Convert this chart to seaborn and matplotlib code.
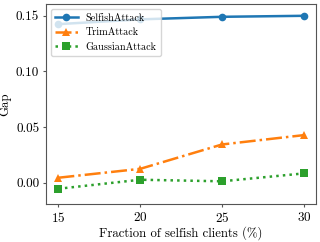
import matplotlib
matplotlib.use("Agg")

import matplotlib.pyplot as plt
import seaborn as sns

fractions = [15, 20, 25, 30]
selfish_gap = [0.1425, 0.1468, 0.1491, 0.1500]
trim_gap = [0.0045, 0.0125, 0.0344, 0.0428]
gaussian_gap = [-0.0054, 0.0027, 0.0013, 0.0084]

plt.rcParams['font.family'] = 'serif'
plt.rcParams['font.serif'] = ['cmr10']
plt.rcParams['mathtext.fontset'] = 'cm'
plt.rcParams['axes.formatter.use_mathtext'] = True
plt.rcParams['axes.unicode_minus'] = False

fig, ax = plt.subplots(figsize=(3.2, 2.42), dpi=100)

sns.lineplot(x=fractions, y=selfish_gap, marker="o", color="tab:blue", label="SelfishAttack",
	linestyle="-", linewidth=1.8, markersize=5.5, markeredgewidth=0, ax=ax)
sns.lineplot(x=fractions, y=trim_gap, marker="^", color="tab:orange", label="TrimAttack",
	linestyle="-.", linewidth=1.8, markersize=5.5, markeredgewidth=0, ax=ax)
sns.lineplot(x=fractions, y=gaussian_gap, marker="s", color="tab:green", label="GaussianAttack",
	linestyle=":", linewidth=1.8, markersize=5.5, markeredgewidth=0, ax=ax)

ax.set_xticks(fractions)
ax.set_yticks([0.0, 0.05, 0.10, 0.15])
ax.set_yticklabels(["0.00", "0.05", "0.10", "0.15"])
ax.set_ylim(-0.0191, 0.1605)
ax.set_xlabel("Fraction of selfish clients (%)", fontsize=9.2, labelpad=1)
ax.set_ylabel("Gap", fontsize=9.2, labelpad=3)
ax.tick_params(labelsize=9.5, length=2.5, pad=2.5, color="#555555")
for s in ax.spines.values():
	s.set_color("#555555")

ax.legend(loc="upper left", fontsize=7.3, handlelength=2.2)

plt.subplots_adjust(left=0.144, right=0.988, top=0.983, bottom=0.157)
plt.savefig("out.png")
